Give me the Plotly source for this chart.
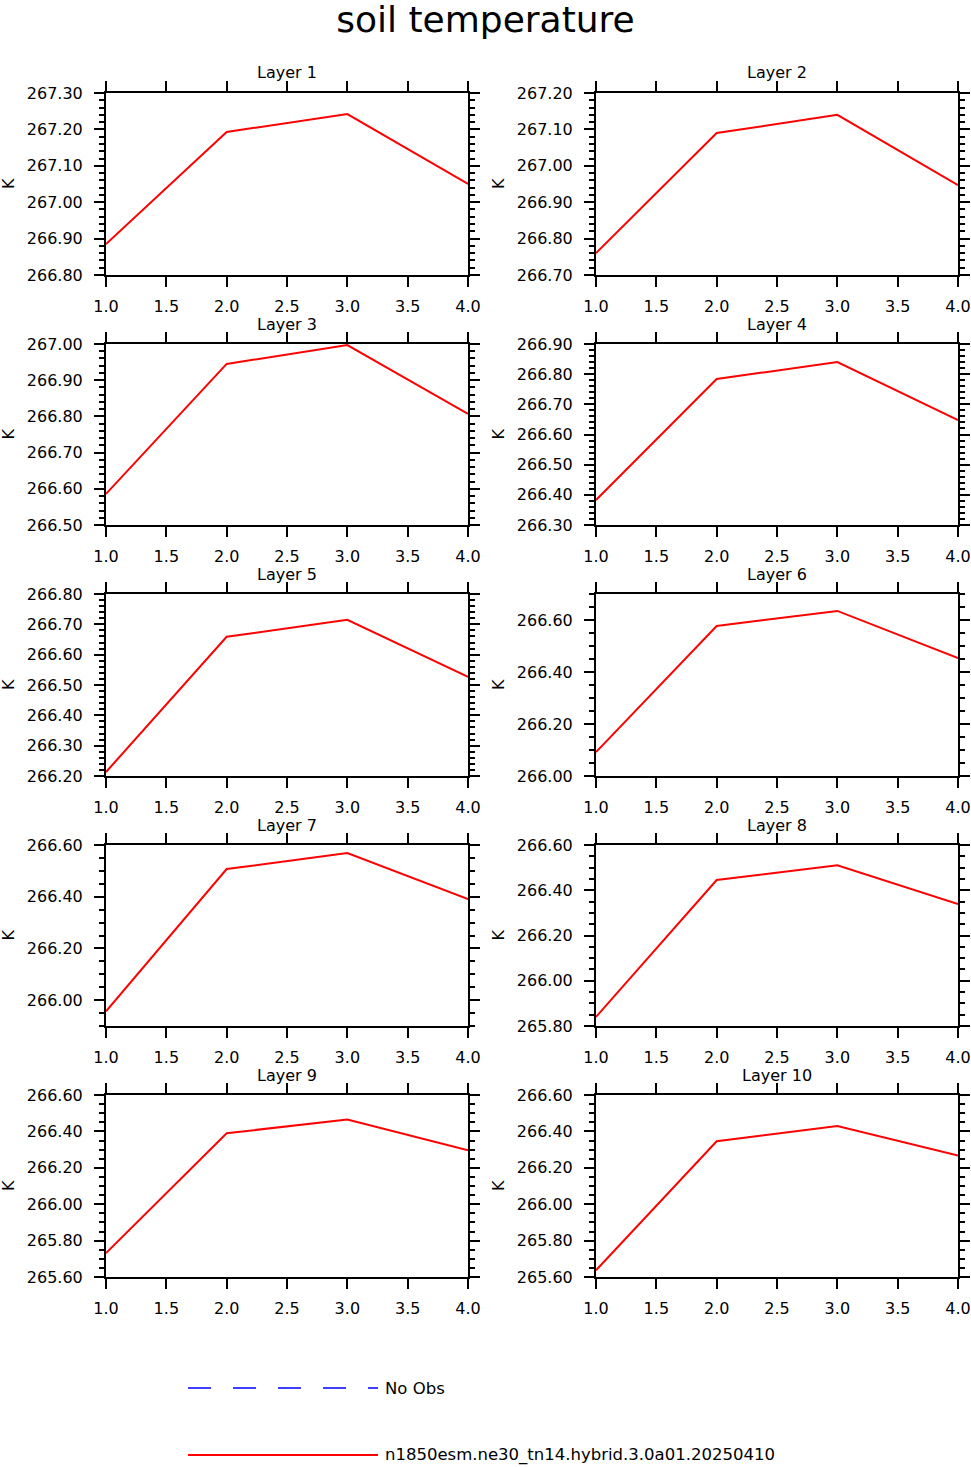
import plotly.graph_objects as go

W, H = 971, 1467

# x values (simulation index)
x_vals = [1, 2, 3, 4]

# soil temperature (K) for each layer
layer1 = [266.885, 267.193, 267.242, 267.050]
layer2 = [266.760, 267.090, 267.140, 266.947]
layer3 = [266.586, 266.945, 266.997, 266.807]
layer4 = [266.383, 266.784, 266.840, 266.648]
layer5 = [266.213, 266.659, 266.715, 266.527]
layer6 = [266.092, 266.577, 266.635, 266.454]
layer7 = [265.957, 266.507, 266.569, 266.391]
layer8 = [265.840, 266.445, 266.510, 266.339]
layer9 = [265.731, 266.390, 266.465, 266.296]
layer10 = [265.637, 266.346, 266.430, 266.268]

layers = [layer1, layer2, layer3, layer4, layer5,
          layer6, layer7, layer8, layer9, layer10]
titles = ["Layer %d" % (i + 1) for i in range(10)]

# y-axis ranges / ticks per panel
y_ranges = [[266.80, 267.30], [266.70, 267.20], [266.50, 267.00],
            [266.30, 266.90], [266.20, 266.80], [266.00, 266.70],
            [265.90, 266.60], [265.80, 266.60], [265.60, 266.60],
            [265.60, 266.60]]
y_major = [0.1, 0.1, 0.1, 0.1, 0.1, 0.2, 0.2, 0.2, 0.2, 0.2]
y_minor = [0.02, 0.02, 0.02, 0.02, 0.02, 0.05, 0.05, 0.05, 0.05, 0.05]

legend_names = ["No Obs", "n1850esm.ne30_tn14.hybrid.3.0a01.20250410"]

FONT = "DejaVu Sans"

# panel geometry in pixels
col_x = [(106, 468), (596, 958)]
row_y = [(93, 275), (344, 525), (594, 776), (845, 1026), (1095, 1277)]

fig = go.Figure()
layout = {}
annotations = []

for i, vals in enumerate(layers):
    r, c = i // 2, i % 2
    n = i + 1
    xa = "x" if n == 1 else "x%d" % n
    ya = "y" if n == 1 else "y%d" % n
    x0, x1 = col_x[c]
    top, bot = row_y[r]

    fig.add_trace(go.Scatter(
        x=x_vals, y=vals, mode="lines",
        line=dict(color="red", width=2),
        xaxis=xa, yaxis=ya, showlegend=False, hoverinfo="skip"
    ))

    axis_common = dict(
        showline=True, linecolor="black", linewidth=2, mirror="allticks",
        ticks="outside", ticklen=10, tickwidth=2, tickcolor="black",
        showgrid=False, zeroline=False, automargin=False,
        tickfont=dict(family=FONT, size=16, color="black"),
    )
    layout["xaxis" if n == 1 else "xaxis%d" % n] = dict(
        axis_common,
        domain=[x0 / W, x1 / W], anchor=ya,
        range=[1, 4], dtick=0.5, tick0=1, tickformat=".1f",
        ticklabelstandoff=6,
    )
    layout["yaxis" if n == 1 else "yaxis%d" % n] = dict(
        axis_common,
        domain=[1 - bot / H, 1 - top / H], anchor=xa,
        range=y_ranges[i], dtick=y_major[i], tick0=0, tickformat=".2f",
        ticklabelstandoff=8,
        minor=dict(ticks="outside", ticklen=5, tickwidth=1.5,
                   tickcolor="black", dtick=y_minor[i], tick0=0),
    )

    annotations.append(dict(
        x=(x0 + x1) / 2 / W, y=1 - (top - 20) / H, xref="paper", yref="paper",
        xanchor="center", yanchor="middle",
        text=titles[i], showarrow=False,
        font=dict(family=FONT, size=16, color="black"),
    ))
    annotations.append(dict(
        x=(x0 - 98) / W, y=1 - (top + bot) / 2 / H, xref="paper", yref="paper",
        xanchor="center", yanchor="middle",
        text="K", showarrow=False, textangle=-90,
        font=dict(family=FONT, size=16, color="black"),
    ))

# legend entries
annotations.append(dict(
    x=383 / W, y=1 - 1388 / H, xref="paper", yref="paper",
    xanchor="left", yanchor="middle",
    text=legend_names[0], showarrow=False,
    font=dict(family=FONT, size=16.5, color="black"),
))
annotations.append(dict(
    x=383 / W, y=1 - 1455 / H, xref="paper", yref="paper",
    xanchor="left", yanchor="middle",
    text=legend_names[1], showarrow=False,
    font=dict(family=FONT, size=16.5, color="black"),
))
shapes = [
    dict(type="line", xref="paper", yref="paper",
         x0=188 / W, x1=378 / W, y0=1 - 1388 / H, y1=1 - 1388 / H,
         line=dict(color="blue", width=1.5, dash="23px,22px")),
    dict(type="line", xref="paper", yref="paper",
         x0=188 / W, x1=378 / W, y0=1 - 1455 / H, y1=1 - 1455 / H,
         line=dict(color="red", width=2)),
]

fig.update_layout(
    **layout,
    width=W, height=H,
    margin=dict(l=0, r=0, t=0, b=0, pad=0, autoexpand=False),
    paper_bgcolor="white", plot_bgcolor="white",
    title=dict(text="soil temperature", x=0.5, xanchor="center",
               y=1 - 19 / H, yanchor="middle", automargin=False,
               font=dict(family=FONT, size=36, color="black")),
    annotations=annotations,
    shapes=shapes,
    showlegend=False,
)

fig.write_html(
    "out.html",
    config={"displayModeBar": False},
    post_script="document.body.style.margin='0';"
                "document.body.style.overflow='hidden';",
)
